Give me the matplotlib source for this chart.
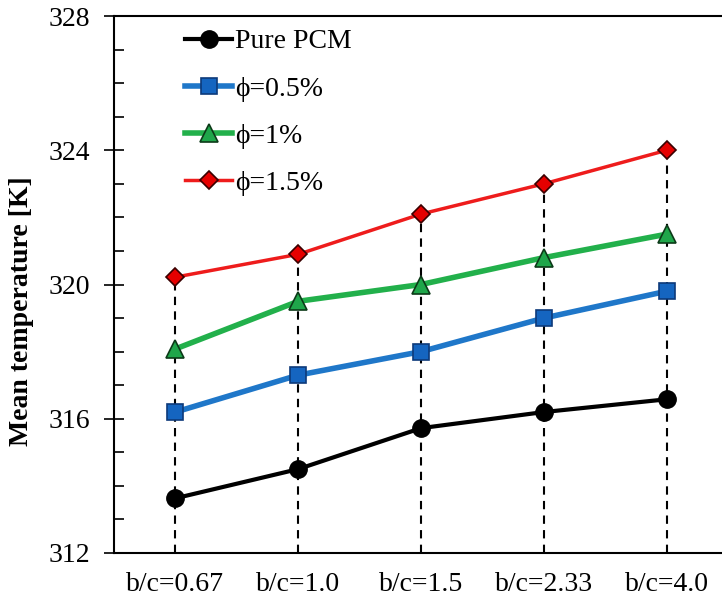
import matplotlib.pyplot as plt
from matplotlib.ticker import MultipleLocator

plt.rcParams['font.family'] = ['Liberation Serif', 'DejaVu Serif']

labels = ['b/c=0.67', 'b/c=1.0', 'b/c=1.5', 'b/c=2.33', 'b/c=4.0']
pure_pcm = [313.63, 314.5, 315.72, 316.2, 316.58]
phi_05 = [316.2, 317.3, 318.0, 319.0, 319.8]
phi_1 = [318.08, 319.5, 320.0, 320.8, 321.5]
phi_15 = [320.22, 320.9, 322.1, 323.0, 324.0]

x = list(range(len(labels)))

fig = plt.figure(figsize=(7.22, 5.98), dpi=100)
ax = fig.add_axes([114 / 722, 45 / 598, 1 - 114 / 722, 537 / 598])

# dashed drop lines from the top series to the axis
ax.vlines(x, 312, phi_15, colors='k', linestyles=(0, (4, 3)), linewidth=1.5, zorder=1)

ax.plot(x, pure_pcm, '-o', color='k', lw=3, ms=12.5, mfc='k', mec='k', label='Pure PCM', zorder=3)
ax.plot(x, phi_05, '-s', color='#1f77c9', lw=4, ms=11.5, mfc='#1565c0', mec='#0d3a7a', mew=1.2,
        label='\u03d5=0.5%', zorder=3)
ax.plot(x, phi_1, '-^', color='#22b04b', lw=4, ms=13, mfc='#1fa64a', mec='#0c3a18', mew=1.2,
        label='\u03d5=1%', zorder=3)
ax.plot(x, phi_15, '-D', color='#ee1c1c', lw=2.5, ms=9, mfc='#e60000', mec='#3a0000', mew=1.2,
        label='\u03d5=1.5%', zorder=3)

ax.set_ylim(312, 328)
ax.set_xlim(-0.5, 4.45)
ax.yaxis.set_major_locator(MultipleLocator(4))
ax.yaxis.set_minor_locator(MultipleLocator(1))
ax.tick_params(axis='y', which='major', direction='inout', length=14, width=1.2, labelsize=20, pad=10)
ax.tick_params(axis='y', which='minor', direction='in', length=7, width=1.2)
ax.set_xticks(x)
ax.set_xticklabels(labels)
ax.tick_params(axis='x', length=0, labelsize=20, pad=14)
ax.set_ylabel('Mean temperature [K]', fontsize=20, fontweight='bold')
ax.yaxis.set_label_coords(-0.132, 0.45)

for s in ['left', 'bottom', 'top']:
    ax.spines[s].set_linewidth(1.5)
ax.spines['right'].set_visible(False)

ax.legend(loc='upper left', bbox_to_anchor=(0.085, 1.012), frameon=False, fontsize=20,
          handlelength=1.7, handletextpad=0.1, labelspacing=0.78, borderaxespad=0.3)

fig.savefig('out.png', dpi=100)
